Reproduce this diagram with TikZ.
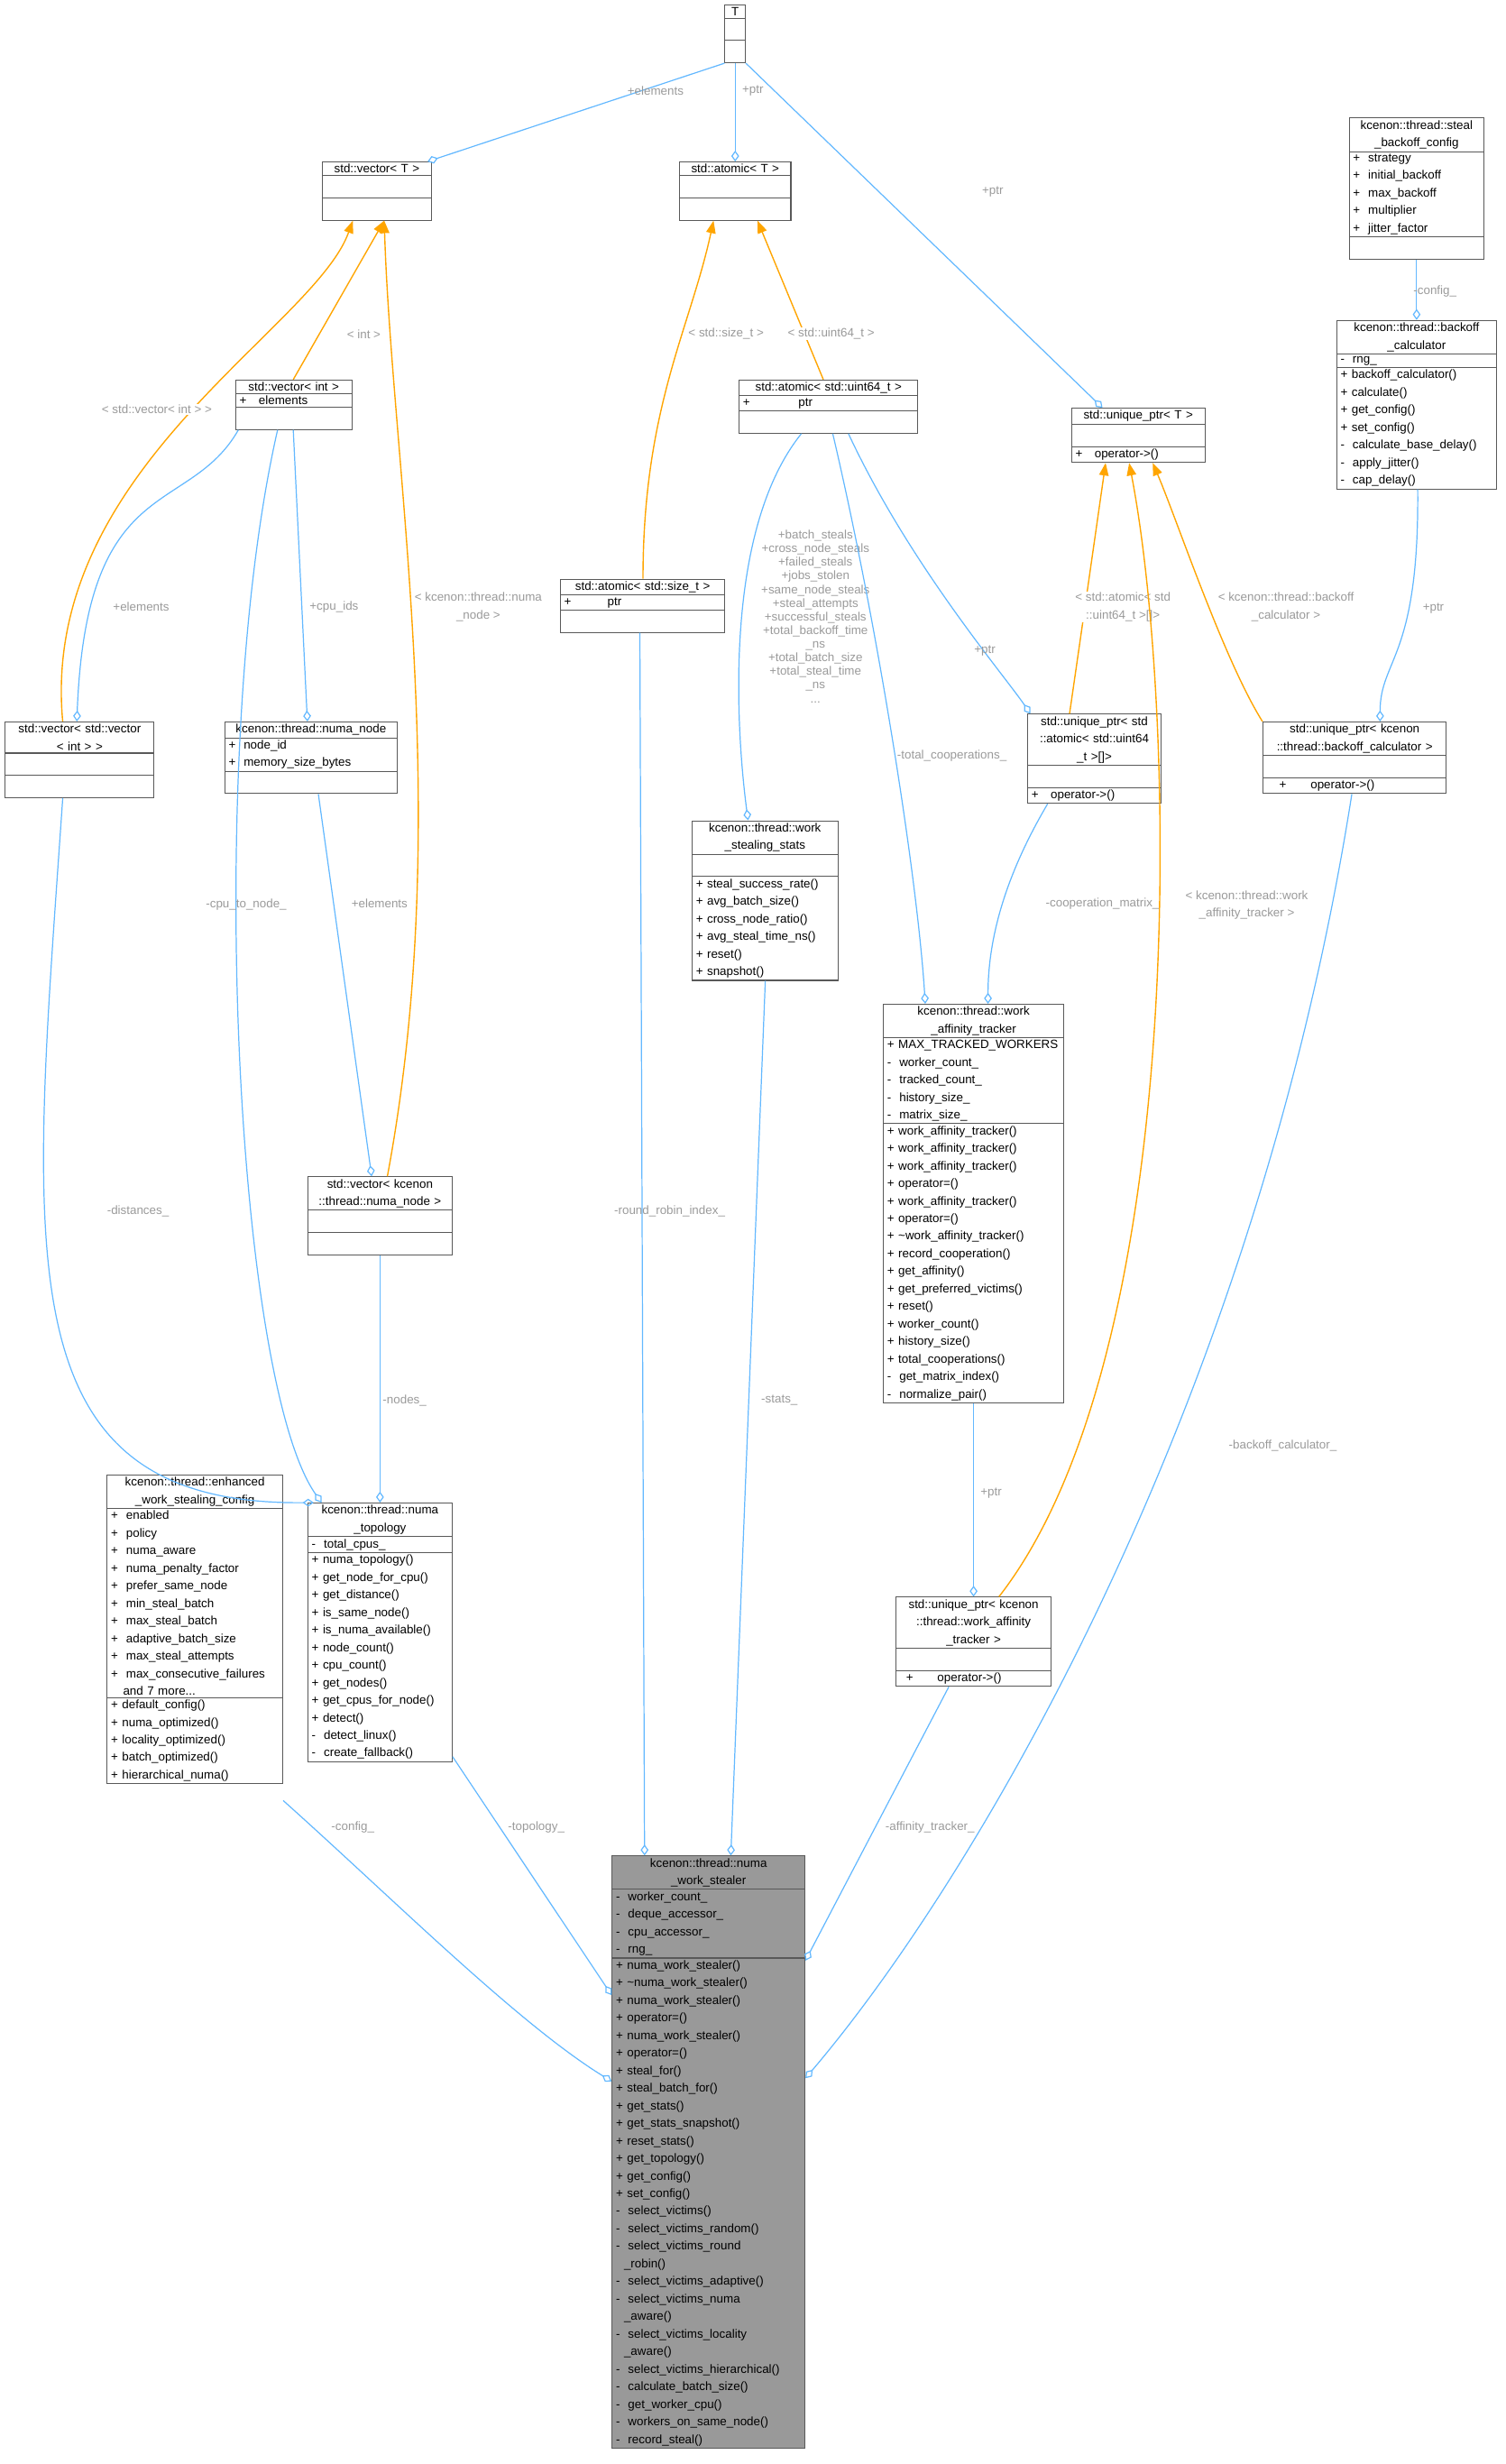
\documentclass[tikz,border=0pt]{standalone}
\usepackage{fontspec}
\setmainfont{Liberation Sans}
\usetikzlibrary{shapes.multipart, arrows.meta, calc}
\definecolor{aggblue}{HTML}{63B8FF}
\definecolor{tmplorange}{HTML}{FFA500}
\definecolor{lblgray}{HTML}{9A9A9A}
\newcommand{\clsfont}{\fontsize{7.7}{11.2}\selectfont}
\newcommand{\ind}{\phantom{-\ }}
\tikzset{
	cls/.style={draw=black!65, line width=0.6pt, rectangle split, rectangle split parts=3,
		anchor=north west, inner xsep=2.5pt, inner ysep=1.2pt, font=\clsfont, align=left, fill=white},
	agg/.style={draw=aggblue, line width=0.7pt, -{Diamond[open, length=7pt, width=5pt]}},
	tmpl/.style={draw=tmplorange, line width=0.8pt, -{Triangle[length=8pt, width=6pt]}},
	lbl/.style={font=\clsfont, text=lblgray, inner sep=0.5pt, align=center},
}
\begin{document}
\begin{tikzpicture}[x=1pt, y=-1pt]
\useasboundingbox (0,0) rectangle (960,1571);

% class boxes
\node[cls, text width=8pt] (T) at (462,3) {{\centering T\par}\nodepart{two}\strut\nodepart{three}\strut};
\node[cls, text width=65pt] (vecT) at (205,103) {{\centering std::vector< T >\par}\nodepart{two}\strut\nodepart{three}\strut};
\node[cls, text width=66pt] (atomT) at (433,103) {{\centering std::atomic< T >\par}\nodepart{two}\strut\nodepart{three}\strut};
\node[cls, text width=80pt] (uptrT) at (683,260) {{\centering std::unique\_ptr< T >\par}\nodepart{two}\strut\nodepart{three}+\quad operator->()};
\node[cls, text width=81pt] (backoffcfg) at (860,75) {{\centering kcenon::thread::steal\\\_backoff\_config\par}\nodepart{two}+\ \ strategy\\+\ \ initial\_backoff\\+\ \ max\_backoff\\+\ \ multiplier\\+\ \ jitter\_factor\nodepart{three}\strut};
\node[cls, text width=97pt] (backoffcalc) at (852,204) {{\centering kcenon::thread::backoff\\\_calculator\par}\nodepart{two}-\ \ rng\_\nodepart{three}+ backoff\_calculator()\\+ calculate()\\+ get\_config()\\+ set\_config()\\- \ calculate\_base\_delay()\\- \ apply\_jitter()\\- \ cap\_delay()};
\node[cls, text width=69pt] (vecint) at (150,242) {{\centering std::vector< int >\par}\nodepart{two}+\quad elements\nodepart{three}\strut};
\node[cls, text width=109pt] (atom64) at (471,242) {{\centering std::atomic< std::uint64\_t >\par}\nodepart{two}+\qquad\qquad ptr\nodepart{three}\strut};
\node[cls, text width=100pt] (atomsize) at (357,369) {{\centering std::atomic< std::size\_t >\par}\nodepart{two}+\qquad\quad ptr\nodepart{three}\strut};
\node[cls, text width=90pt] (vecvec) at (3,460) {{\centering std::vector< std::vector\\< int > >\par}\nodepart{two}\strut\nodepart{three}\strut};
\node[cls, text width=105pt] (numanode) at (143,460) {{\centering kcenon::thread::numa\_node\par}\nodepart{two}+\ \ node\_id\\+\ \ memory\_size\_bytes\nodepart{three}\strut};
\node[cls, text width=80pt] (uptrA) at (655,455) {{\centering std::unique\_ptr< std\\::atomic< std::uint64\\\_t >[]>\par}\nodepart{two}\strut\nodepart{three}+\quad operator->()};
\node[cls, text width=112pt] (uptrB) at (805,460) {{\centering std::unique\_ptr< kcenon\\::thread::backoff\_calculator >\par}\nodepart{two}\strut\nodepart{three}\hspace*{8pt}+\qquad operator->()};
\node[cls, text width=88pt] (stats) at (441,523) {{\centering kcenon::thread::work\\\_stealing\_stats\par}\nodepart{two}\strut\nodepart{three}+ steal\_success\_rate()\\+ avg\_batch\_size()\\+ cross\_node\_ratio()\\+ avg\_steal\_time\_ns()\\+ reset()\\+ snapshot()};
\node[cls, text width=110pt] (tracker) at (563,640) {{\centering kcenon::thread::work\\\_affinity\_tracker\par}\nodepart{two}+ MAX\_TRACKED\_WORKERS\\- \ worker\_count\_\\- \ tracked\_count\_\\- \ history\_size\_\\- \ matrix\_size\_\nodepart{three}+ work\_affinity\_tracker()\\+ work\_affinity\_tracker()\\+ work\_affinity\_tracker()\\+ operator=()\\+ work\_affinity\_tracker()\\+ operator=()\\+ \textasciitilde work\_affinity\_tracker()\\+ record\_cooperation()\\+ get\_affinity()\\+ get\_preferred\_victims()\\+ reset()\\+ worker\_count()\\+ history\_size()\\+ total\_cooperations()\\- \ get\_matrix\_index()\\- \ normalize\_pair()};
\node[cls, text width=87pt] (vecnuma) at (196,750) {{\centering std::vector< kcenon\\::thread::numa\_node >\par}\nodepart{two}\strut\nodepart{three}\strut};
\node[cls, text width=107pt] (config) at (68,940) {{\centering kcenon::thread::enhanced\\\_work\_stealing\_config\par}\nodepart{two}+\ \ enabled\\+\ \ policy\\+\ \ numa\_aware\\+\ \ numa\_penalty\_factor\\+\ \ prefer\_same\_node\\+\ \ min\_steal\_batch\\+\ \ max\_steal\_batch\\+\ \ adaptive\_batch\_size\\+\ \ max\_steal\_attempts\\+\ \ max\_consecutive\_failures\\\ind\ and 7 more...\nodepart{three}+ default\_config()\\+ numa\_optimized()\\+ locality\_optimized()\\+ batch\_optimized()\\+ hierarchical\_numa()};
\node[cls, text width=87pt] (topology) at (196,958) {{\centering kcenon::thread::numa\\\_topology\par}\nodepart{two}- \ total\_cpus\_\nodepart{three}+ numa\_topology()\\+ get\_node\_for\_cpu()\\+ get\_distance()\\+ is\_same\_node()\\+ is\_numa\_available()\\+ node\_count()\\+ cpu\_count()\\+ get\_nodes()\\+ get\_cpus\_for\_node()\\+ detect()\\- \ detect\_linux()\\- \ create\_fallback()};
\node[cls, text width=94pt] (uptrTr) at (571,1018) {{\centering std::unique\_ptr< kcenon\\::thread::work\_affinity\\\_tracker >\par}\nodepart{two}\strut\nodepart{three}\hspace*{4pt}+\qquad operator->()};
\node[cls, text width=118pt, fill=black!40] (stealer) at (390,1183) {{\centering kcenon::thread::numa\\\_work\_stealer\par}\nodepart{two}- \ worker\_count\_\\- \ deque\_accessor\_\\- \ cpu\_accessor\_\\- \ rng\_\nodepart{three}+ numa\_work\_stealer()\\+ \textasciitilde numa\_work\_stealer()\\+ numa\_work\_stealer()\\+ operator=()\\+ numa\_work\_stealer()\\+ operator=()\\+ steal\_for()\\+ steal\_batch\_for()\\+ get\_stats()\\+ get\_stats\_snapshot()\\+ reset\_stats()\\+ get\_topology()\\+ get\_config()\\+ set\_config()\\- \ select\_victims()\\- \ select\_victims\_random()\\- \ select\_victims\_round\\\ind\_robin()\\- \ select\_victims\_adaptive()\\- \ select\_victims\_numa\\\ind\_aware()\\- \ select\_victims\_locality\\\ind\_aware()\\- \ select\_victims\_hierarchical()\\- \ calculate\_batch\_size()\\- \ get\_worker\_cpu()\\- \ workers\_on\_same\_node()\\- \ record\_steal()};

% aggregation connectors
\draw[agg] (T.south west) -- ([xshift=-3pt]vecT.north east) node[lbl] at (418,58) {+elements};
\draw[agg] (T.south) -- (atomT.north) node[lbl] at (480,58) {+ptr};
\draw[agg] (T.south east) -- ([xshift=20pt]uptrT.north west) node[lbl] at (633,122) {+ptr};
\draw[agg] (backoffcfg.south) -- (backoffcalc.north) node[lbl] at (915,186) {-config\_};
\draw[agg] ([xshift=52pt]backoffcalc.south west) .. controls (905,420) and (880,420) .. ([xshift=75pt]uptrB.north west) node[lbl] at (914,388) {+ptr};
\draw[agg] ([xshift=2pt]vecint.south west) .. controls (120,330) and (55,300) .. ([xshift=46pt]vecvec.north west) node[lbl] at (90,387) {+elements};
\draw[agg] ([xshift=37pt]vecint.south west) -- ([xshift=53pt]numanode.north west) node[lbl] at (213,387) {+cpu\_ids};
\draw[agg] ([xshift=27pt]vecint.south west) .. controls (130,480) and (150,880) .. ([xshift=9pt]topology.north west) node[lbl] at (157,577) {-cpu\_to\_node\_};
\draw[agg] ([xshift=40pt]atom64.south west) .. controls (460,340) and (470,470) .. ([xshift=36pt]stats.north west)
	node[lbl, font=\fontsize{7.7}{8.7}\selectfont] at (520,393) {+batch\_steals\\+cross\_node\_steals\\+failed\_steals\\+jobs\_stolen\\+same\_node\_steals\\+steal\_attempts\\+successful\_steals\\+total\_backoff\_time\\\_ns\\+total\_batch\_size\\+total\_steal\_time\\\_ns\\...};
\draw[agg] ([xshift=70pt]atom64.south west) .. controls (580,360) and (640,430) .. ([xshift=2pt]uptrA.north west) node[lbl] at (628,415) {+ptr};
\draw[agg] ([xshift=60pt]atom64.south west) .. controls (560,400) and (585,560) .. ([xshift=27pt]tracker.north west) node[lbl] at (607,482) {-total\_cooperations\_};
\draw[agg] ([xshift=13pt]uptrA.south west) .. controls (640,560) and (630,600) .. ([xshift=67pt]tracker.north west) node[lbl] at (703,576) {-cooperation\_matrix\_};
\draw[agg] ([xshift=60pt]numanode.south west) -- ([xshift=41pt]vecnuma.north west) node[lbl] at (242,576) {+elements};
\draw[agg] ([xshift=37pt]vecvec.south west) .. controls (20,800) and (0,960) .. ([xshift=4pt]topology.north west) node[lbl] at (88,772) {-distances\_};
\draw[agg] (vecnuma.south) -- (topology.north) node[lbl] at (258,893) {-nodes\_};
\draw[agg] (tracker.south) -- (uptrTr.north) node[lbl] at (632,952) {+ptr};
\draw[agg] ([xshift=51pt]atomsize.south west) -- ([xshift=21pt]stealer.north west) node[lbl] at (427,772) {-round\_robin\_index\_};
\draw[agg] ([xshift=47pt]stats.south west) -- ([xshift=76pt]stealer.north west) node[lbl] at (497,893) {-stats\_};
\draw[agg] ([yshift=-8pt]config.north east |- 0,1140) .. controls (250,1210) and (330,1290) .. (stealer.west |- 0,1327) node[lbl] at (225,1165) {-config\_};
\draw[agg] (topology.east |- 0,1120) -- (stealer.west |- 0,1272) node[lbl] at (342,1165) {-topology\_};
\draw[agg] ([xshift=34pt]uptrTr.south west) -- (stealer.east |- 0,1250) node[lbl] at (593,1165) {-affinity\_tracker\_};
\draw[agg] ([xshift=57pt]uptrB.south west) .. controls (800,900) and (620,1200) .. (stealer.east |- 0,1325) node[lbl] at (818,922) {-backoff\_calculator\_};

% template connectors
\draw[tmpl] ([xshift=37pt]vecint.north west) -- ([xshift=40pt]vecT.south west) node[lbl, fill=white] at (232,213) {< int >};
\draw[tmpl] ([xshift=37pt]vecvec.north west) .. controls (25,300) and (200,210) .. ([xshift=20pt]vecT.south west) node[lbl, fill=white] at (100,261) {< std::vector< int > >};
\draw[tmpl] ([xshift=51pt]vecnuma.north west) .. controls (290,520) and (250,300) .. ([xshift=40pt]vecT.south west) node[lbl, fill=white] at (305,387) {< kcenon::thread::numa\\\_node >};
\draw[tmpl] ([xshift=53pt]atomsize.north west) .. controls (410,260) and (440,210) .. ([xshift=22pt]atomT.south west) node[lbl, fill=white] at (463,213) {< std::size\_t >};
\draw[tmpl] ([xshift=54pt]atom64.north west) -- ([xshift=50pt]atomT.south west) node[lbl, fill=white] at (530,213) {< std::uint64\_t >};
\draw[tmpl] ([xshift=27pt]uptrA.north west) .. controls (690,400) and (700,330) .. ([xshift=22pt]uptrT.south west) node[lbl, fill=white] at (716,387) {< std::atomic< std\\::uint64\_t >[]>};
\draw[tmpl] (uptrB.north west) .. controls (780,420) and (750,330) .. ([xshift=52pt]uptrT.south west) node[lbl, fill=white] at (820,387) {< kcenon::thread::backoff\\\_calculator >};
\draw[tmpl] ([xshift=66pt]uptrTr.north west) .. controls (760,860) and (750,450) .. ([xshift=37pt]uptrT.south west) node[lbl, fill=white] at (795,577) {< kcenon::thread::work\\\_affinity\_tracker >};
\end{tikzpicture}
\end{document}
